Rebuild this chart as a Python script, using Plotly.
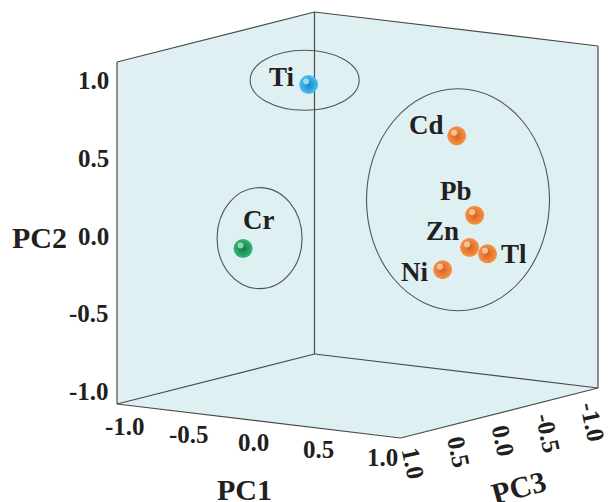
import plotly.graph_objects as go

# ---------------- data ----------------
elements = ["Ti", "Cr", "Cd", "Pb", "Zn", "Tl", "Ni"]
pc1 = [-0.17, -0.47, 0.77, 0.77, 0.80, 0.80, 0.73]
pc2 = [0.93, -0.11, 0.65, 0.11, -0.08, -0.15, -0.20]
pc3 = [0.30, 0.60, 0.00, -0.20, -0.10, -0.30, 0.10]
group = [0, 1, 2, 2, 2, 2, 2]
tick_vals = [-1.0, -0.5, 0.0, 0.5, 1.0]
tick_text = ["-1.0", "-0.5", "0.0", "0.5", "1.0"]
axis_titles = ["PC1", "PC2", "PC3"]
# cluster ellipses: centre (PC1, PC2) on the PC3 = 0 plane
ell_pc1 = [-0.41, -0.76, 0.78]
ell_pc2 = [0.89, -0.16, 0.24]

# ---------------- styles / oblique projection ----------------
L = 1.1
ORIGIN = (117.0, 404.0)
U1 = (283.5 / (2 * L), 34.0 / (2 * L))
U2 = (0.0, -342.0 / (2 * L))
U3 = (197.5 / (2 * L), -50.0 / (2 * L))


def proj(a, b, c):
    s1, s2, s3 = a + L, b + L, L - c
    return (ORIGIN[0] + s1 * U1[0] + s3 * U3[0],
            ORIGIN[1] + s1 * U1[1] + s2 * U2[1] + s3 * U3[1])


FONT = "Liberation Serif"
TXT = "#231f20"
WALL = "#dff0f3"
EDGE = "#4a4a4a"
center_col = ["#4fc1f0", "#35b676", "#f69347"]
edge_col = ["#0f86c4", "#0d7a45", "#d8601a"]
ell_semi = [(54.5, 30.0), (42.5, 50.5), (91.5, 111.0)]
lab_off = {"Ti": (-27, -8), "Cr": (15, -28), "Cd": (-30, -11), "Pb": (-19, -24),
           "Zn": (-27, -17), "Tl": (26, 0), "Ni": (-28, 2)}

fig = go.Figure()
shapes = []


def path(pts):
    return "M " + " L ".join(f"{x:.2f},{y:.2f}" for x, y in pts) + " Z"


A = proj(-L, L, L); B = proj(-L, -L, L); C = proj(-L, L, -L); D = proj(-L, -L, -L)
E = proj(L, L, -L); F = proj(L, -L, -L); G = proj(L, -L, L)
for poly in ([A, B, D, C], [C, D, F, E], [B, G, F, D]):
    shapes.append(dict(type="path", path=path(poly), xref="x", yref="y",
                       fillcolor=WALL, line=dict(width=0), layer="below"))
for p, q in [(A, B), (A, C), (C, D), (C, E), (E, F), (D, F), (B, D), (B, G), (G, F)]:
    shapes.append(dict(type="line", x0=p[0], y0=p[1], x1=q[0], y1=q[1], xref="x", yref="y",
                       line=dict(color=EDGE, width=1.2), layer="below"))
for i in range(3):
    cx, cy = proj(ell_pc1[i], ell_pc2[i], 0.0)
    rx, ry = ell_semi[i]
    shapes.append(dict(type="circle", xref="x", yref="y", x0=cx - rx, x1=cx + rx,
                       y0=cy - ry, y1=cy + ry, line=dict(color="#555555", width=1.1),
                       layer="below"))

# points
pts = [proj(a, b, c) for a, b, c in zip(pc1, pc2, pc3)]
for g in range(3):
    xs = [p[0] for p, gg in zip(pts, group) if gg == g]
    ys = [p[1] for p, gg in zip(pts, group) if gg == g]
    fig.add_trace(go.Scatter(x=xs, y=ys, mode="markers", hoverinfo="skip",
                             marker=dict(size=19, color=center_col[g],
                                         gradient=dict(type="radial", color=edge_col[g]),
                                         line=dict(width=0))))
fig.add_trace(go.Scatter(x=[p[0] - 2.5 for p in pts], y=[p[1] - 3 for p in pts],
                         mode="markers", hoverinfo="skip",
                         marker=dict(size=6, color="rgba(255,255,255,0.55)", line=dict(width=0))))

ann = []
for name, p in zip(elements, pts):
    dx, dy = lab_off[name]
    ann.append(dict(x=p[0], y=p[1], xref="x", yref="y", text=f"<b>{name}</b>", showarrow=False,
                    xshift=dx, yshift=-dy, font=dict(family=FONT, size=27, color=TXT)))

# ticks
for v, t in zip(tick_vals, tick_text):
    x, y = proj(-L, v, L)
    ann.append(dict(x=x, y=y, xref="x", yref="y", text=f"<b>{t}</b>", showarrow=False,
                    xanchor="right", xshift=-6, yshift=-3,
                    font=dict(family=FONT, size=25, color=TXT)))
    x, y = proj(v, -L, L)
    ann.append(dict(x=x, y=y, xref="x", yref="y", text=f"<b>{t}</b>", showarrow=False,
                    xshift=-5, yshift=-21, font=dict(family=FONT, size=25, color=TXT)))
    x, y = proj(L, -L, v)
    ann.append(dict(x=x, y=y, xref="x", yref="y", text=f"<b>{t}</b>", showarrow=False,
                    textangle=78, yanchor="top", xshift=4, yshift=-7,
                    font=dict(family=FONT, size=25, color=TXT)))

# axis titles
for (px, py, ang), t in zip([(244, 489, 0), (39, 237, 0), (518, 487, -15)], axis_titles):
    ann.append(dict(x=px, y=py, xref="x", yref="y", text=f"<b>{t}</b>", showarrow=False,
                    textangle=ang, font=dict(family=FONT, size=30, color=TXT)))

fig.update_layout(
    width=608, height=502, margin=dict(l=0, r=0, t=0, b=0),
    paper_bgcolor="white", plot_bgcolor="white", showlegend=False,
    shapes=shapes, annotations=ann,
    xaxis=dict(range=[0, 608], visible=False, fixedrange=True),
    yaxis=dict(range=[502, 0], visible=False, fixedrange=True),
)
fig.write_html("out.html")
